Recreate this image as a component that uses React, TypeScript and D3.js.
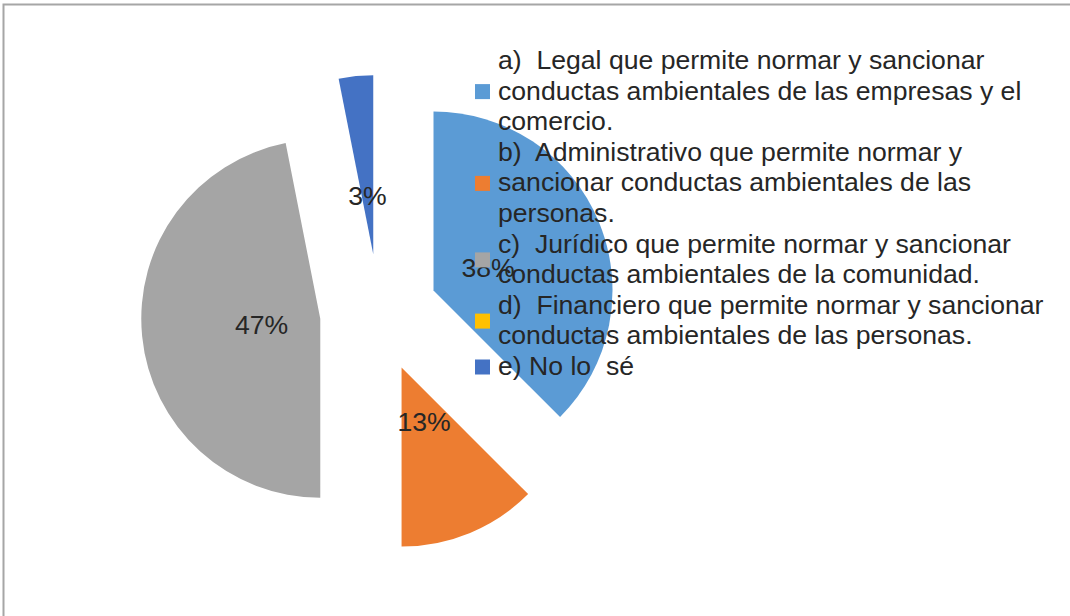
import React from 'react';
import * as d3 from 'd3';

// answers (percent of respondents), clockwise from 12 o'clock
const categories = ['a', 'b', 'c', 'd', 'e'];
const values = [37.5, 12.5, 46.9, 0, 3.1];
const colors = ['#5B9BD5', '#ED7D31', '#A5A5A5', '#FFC000', '#4472C4'];

// legend text, already wrapped the way the original wraps it
const legendA = ['a)  Legal que permite normar y sancionar', 'conductas ambientales de las empresas y el', 'comercio.'];
const legendB = ['b)  Administrativo que permite normar y', 'sancionar conductas ambientales de las', 'personas.'];
const legendC = ['c)  Jurídico que permite normar y sancionar', 'conductas ambientales de la comunidad.'];
const legendD = ['d)  Financiero que permite normar y sancionar', 'conductas ambientales de las personas.'];
const legendE = ['e) No lo  sé'];
const legendLines = [legendA, legendB, legendC, legendD, legendE];

const W = 1070;
const H = 616;
const center = { x: 379, y: 313 };
const radius = 179;
const explode = 59;
const labelDist = 59;
const font = '"Liberation Sans", Arial, sans-serif';
const fontSize = 26.6;

const legend = { x: 475, textX: 498, top: 69, lineH: 30.6, box: 15 };

export default function App() {
  const pie = d3
    .pie<number>()
    .sort(null)
    .value((d) => d)
    .startAngle(0)
    .endAngle(2 * Math.PI);
  const arcs = pie(values);

  const arc = d3.arc<d3.PieArcDatum<number>>().innerRadius(0).outerRadius(radius);
  const labelArc = d3.arc<d3.PieArcDatum<number>>().innerRadius(labelDist).outerRadius(labelDist);

  // exploded slices: every slice pushed out along its middle angle
  const offset = (a: d3.PieArcDatum<number>) => {
    const mid = (a.startAngle + a.endAngle) / 2;
    return [explode * Math.sin(mid), -explode * Math.cos(mid)];
  };

  // legend rows
  let line = 0;
  const rows = legendLines.map((lines, i) => {
    const first = line;
    line += lines.length;
    const baselines = lines.map((_, k) => legend.top + (first + k) * legend.lineH);
    const midY = d3.mean(baselines)! - 8;
    return { lines, baselines, midY, color: colors[i] };
  });

  return (
    <svg
      width={W}
      height={H}
      style={{ position: 'absolute', left: 0, top: 0, background: '#fff' }}
      fontFamily={font}
    >
      <rect x={3.5} y={4.5} width={W + 20} height={H + 20} fill="#fff" stroke="#a6a6a6" strokeWidth={2} />

      <g transform={`translate(${center.x},${center.y})`}>
        {arcs.map((a, i) => {
          const [dx, dy] = offset(a);
          return (
            <path
              key={categories[i]}
              d={arc(a) || ''}
              fill={colors[i]}
              transform={`translate(${dx},${dy})`}
            />
          );
        })}
        {arcs.map((a, i) => {
          if (a.data === 0) return null;
          const [dx, dy] = offset(a);
          const [lx, ly] = labelArc.centroid(a);
          return (
            <text
              key={'l' + categories[i]}
              x={lx + dx}
              y={ly + dy}
              dy="0.35em"
              textAnchor="middle"
              fontSize={fontSize}
              fill="#262626"
            >
              {Math.round(a.data) + '%'}
            </text>
          );
        })}
      </g>

      <g>
        {rows.map((r, i) => (
          <g key={'lg' + i}>
            <rect
              x={legend.x}
              y={r.midY - legend.box / 2}
              width={legend.box}
              height={legend.box}
              fill={r.color}
            />
            {r.lines.map((t, k) => (
              <text
                key={k}
                x={legend.textX}
                y={r.baselines[k]}
                fontSize={fontSize}
                fill="#262626"
                style={{ whiteSpace: 'pre' }}
              >
                {t}
              </text>
            ))}
          </g>
        ))}
      </g>
    </svg>
  );
}
